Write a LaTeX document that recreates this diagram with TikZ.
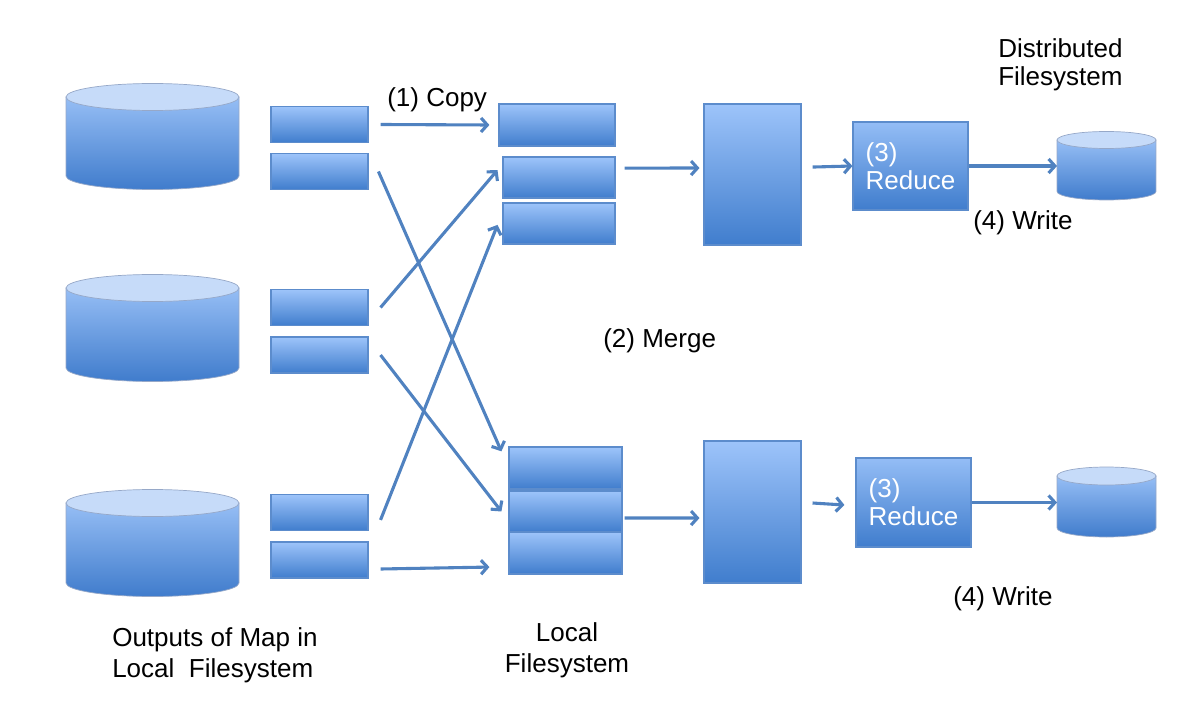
\documentclass[tikz,border=0pt]{standalone}
\usepackage{fontspec}
\setmainfont{Liberation Sans}
\usetikzlibrary{arrows.meta}

\definecolor{barTop}{RGB}{157,196,250}
\definecolor{barBot}{RGB}{64,125,205}
\definecolor{barEdge}{RGB}{92,140,204}
\definecolor{diskTop}{RGB}{150,190,245}
\definecolor{diskBot}{RGB}{64,124,204}
\definecolor{diskCap}{RGB}{198,219,249}
\definecolor{diskEdge}{RGB}{150,168,200}
\definecolor{linkBlue}{RGB}{80,130,192}

% data store: centre x, top y, x radius, y radius, body height
\newcommand{\datadisk}[5]{%
  \shadedraw[top color=diskTop, bottom color=diskBot, draw=diskEdge, line width=0.5pt]
    (#1-#3,#2) -- (#1-#3,#2+#5) arc[start angle=180, end angle=0, x radius=#3, y radius=#4] -- (#1+#3,#2) -- cycle;
  \filldraw[fill=diskCap, draw=diskEdge, line width=0.5pt] (#1,#2) ellipse[x radius=#3, y radius=#4];
}

\begin{document}
\begin{tikzpicture}[
  x=0.025cm,
  y=-0.025cm,
  bar/.style={draw=barEdge, line width=0.8pt, top color=barTop, bottom color=barBot, inner sep=0pt, minimum width=2.425cm, minimum height=0.9cm},
  link/.style={draw=linkBlue, line width=2.2pt, -{Straight Barb[length=4.5pt,width=10pt]}},
  lbl/.style={font=\fontsize{18.5}{21.5}\selectfont, inner sep=0pt},
]
\useasboundingbox (0,0) rectangle (1202,701);

% Map outputs on local disks
\datadisk{152.5}{97}{86.5}{13.5}{79}
\datadisk{152.5}{288}{86.5}{13.5}{80}
\datadisk{152.5}{503}{86.5}{13.5}{80}

\node[bar] (l11) at (319.5,124.5) {};
\node[bar] (l12) at (319.5,171.5) {};
\node[bar] (l21) at (319.5,307.5) {};
\node[bar] (l22) at (319.5,355) {};
\node[bar] (l31) at (319.5,512.5) {};
\node[bar] (l32) at (319.5,560) {};

% Copied partitions on the reducer side
\node[bar, minimum width=2.9cm, minimum height=1.05cm] (t1) at (557,125) {};
\node[bar, minimum width=2.8cm, minimum height=1.025cm] (t2) at (559,177.5) {};
\node[bar, minimum width=2.8cm, minimum height=1.025cm] (t3) at (559,223.5) {};

\node[bar, minimum width=2.825cm, minimum height=1.05cm] (b1) at (565.5,468) {};
\node[bar, minimum width=2.825cm, minimum height=1.025cm] (b2) at (565.5,511.5) {};
\node[bar, minimum width=2.825cm, minimum height=1.05cm] (b3) at (565.5,553) {};

% Merged runs
\node[bar, minimum height=3.525cm] (tm) at (752.5,174.5) {};
\node[bar, minimum height=3.55cm] (tb) at (752.5,512) {};

% Reducers
\node[bar, top color=barTop!90!barBot, minimum width=2.875cm, minimum height=2.2cm, align=left, text=white, font=\fontsize{18.5}{20}\selectfont] (r1) at (910.5,166) {(3)\\Reduce};
\node[bar, top color=barTop!90!barBot, minimum width=2.875cm, minimum height=2.225cm, align=left, text=white, font=\fontsize{18.5}{20}\selectfont] (r2) at (913.5,502.5) {(3)\\Reduce};

% Distributed filesystem
\datadisk{1106.5}{140}{49.5}{8.5}{51.5}
\datadisk{1106.5}{476}{49.5}{9}{52}
\coordinate (d1) at (1057,166);
\coordinate (d2) at (1057,502);

% Shuffle
\draw[link] ([xshift=8.5pt]l11.east) -- ([xshift=-6.4pt]t1.west);
\draw[link] ([xshift=7pt]l12.east) -- ([xshift=-5pt,yshift=-3.5pt]b1.north west);
\draw[link] ([xshift=8.5pt]l21.east) -- ([xshift=-3.5pt,yshift=5.3pt]t2.west);
\draw[link] ([xshift=8.5pt]l22.east) -- ([xshift=-5pt]b2.west);
\draw[link] ([xshift=8.5pt,yshift=-5.3pt]l31.east) -- ([xshift=-3.5pt,yshift=-1pt]t3.west);
\draw[link] ([xshift=8.5pt,yshift=-6.4pt]l32.east) -- ([xshift=-13.5pt,yshift=-10pt]b3.west);

% Merge, reduce, write
\draw[link] ([xshift=6.4pt,yshift=6.7pt]t2.east) -- ([xshift=-2.8pt,yshift=4.6pt]tm.west);
\draw[link] ([xshift=1.5pt,yshift=-4.6pt]b2.east) -- ([xshift=-2.8pt,yshift=-4.3pt]tb.west);
\draw[link] ([xshift=7.8pt,yshift=5.3pt]tm.east) -- (r1.west);
\draw[link] ([xshift=7.8pt,yshift=6.4pt]tb.east) -- ([xshift=-7.8pt,yshift=-1.8pt]r2.west);
\draw[link] (r1.east) -- (r1.east -| d1);
\draw[link] (r2.east) -- (r2.east -| d2);

% Labels (base of a two-line node is its last line)
\node[lbl, anchor=base west] (copy) at (387,107) {(1) Copy};
\node[lbl, anchor=base west] (merge) at (603,348) {(2) Merge};
\node[lbl, anchor=base west] (write1) at (973,230) {(4) Write};
\node[lbl, anchor=base west] (write2) at (953,605) {(4) Write};
\node[lbl, anchor=base west, align=left, font=\fontsize{18.5}{20.6}\selectfont] (dfs) at (998,86) {Distributed\\Filesystem};
\node[lbl, anchor=base west, align=left] (outs) at (112,677) {Outputs of Map in\\Local~~Filesystem};
\node[lbl, anchor=base, align=center, font=\fontsize{18.5}{22}\selectfont] (lfs) at (567,672) {Local\\Filesystem};

\end{tikzpicture}
\end{document}
